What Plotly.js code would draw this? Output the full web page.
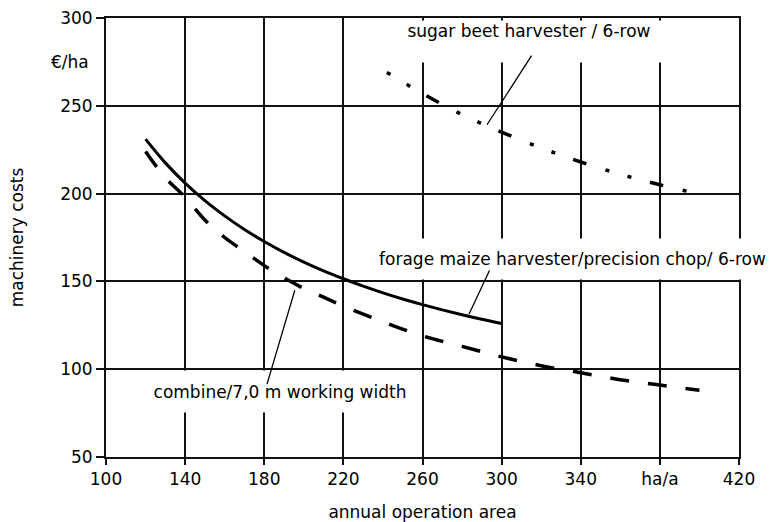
<!DOCTYPE html>
<html>
<head>
<meta charset="utf-8">
<script src="https://cdn.plot.ly/plotly-3.0.1.min.js"></script>
<style>html,body{margin:0;padding:0;background:#fff;}#chart{width:774px;height:522px;}</style>
</head>
<body>
<div id="chart"></div>
<script>
// Data
const forageX = [120,130,140,150,160,170,180,190,200,210,220,230,240,250,260,270,280,290,300];
const forageY = [231,217.5,206,196,187.3,179.5,172.7,166.5,161,156,151.5,147.3,143.5,140,136.8,133.8,131,128.4,126];

const combineX = [120,130,140,150,160,170,180,190,200,210,220,240,260,280,300,320,340,360,380,400];
const combineY = [224,209,198,185,175,167,159,152,146,141,136,127,119,113,107,102,98,94,91,88];

const sugarX = [242,260,280,300,320,340,360,380,395];
const sugarY = [269,257,245,235,226,218,211,205,201];

const xTickVals = [100,140,180,220,260,300,340,380,420];
const xTickText = ['100','140','180','220','260','300','340','ha/a','420'];
const yTickVals = [50,100,150,200,250,300];
const yTickText = ['50','100','150','200','250','300'];

const labelForage = 'forage maize harvester/precision chop/ 6-row';
const labelCombine = 'combine/7,0 m working width';
const labelSugar = 'sugar beet harvester / 6-row';
const unitY = '€/ha';
const titleX = 'annual operation area';
const titleY = 'machinery costs';

const FONT = 'DejaVu Sans, Liberation Sans, Arial, sans-serif';

const traces = [
  {x: forageX, y: forageY, mode: 'lines', line: {color: '#000', width: 3, shape: 'spline'}, name: labelForage},
  {x: combineX, y: combineY, mode: 'lines', line: {color: '#000', width: 3.5, dash: '19px,19px', shape: 'spline'}, name: labelCombine},
  {x: sugarX, y: sugarY, mode: 'lines', line: {color: '#000', width: 3.5, dash: '4px,19px,4px,19px,14px,20px', shape: 'spline'}, name: labelSugar}
];

function leader(x0, y0, x1, y1) {
  return {x: x1, y: y1, ax: x0, ay: y0, xref: 'x', yref: 'y', axref: 'x', ayref: 'y',
    text: ' ', font: {size: 1}, showarrow: true, arrowhead: 0, arrowwidth: 1.3,
    arrowcolor: '#000', standoff: 0, startstandoff: 0, borderpad: 0};
}

const layout = {
  width: 774, height: 522,
  margin: {l: 106, r: 35, t: 18, b: 65},
  paper_bgcolor: '#fff', plot_bgcolor: '#fff',
  showlegend: false,
  font: {family: FONT, size: 17, color: '#000'},
  xaxis: {
    range: [100, 420], tickmode: 'array', tickvals: xTickVals, ticktext: xTickText,
    showgrid: true, gridcolor: '#111', gridwidth: 2,
    showline: true, linecolor: '#111', linewidth: 2, mirror: true,
    ticks: 'outside', ticklen: 6, tickwidth: 2, tickcolor: '#111',
    zeroline: false,
    title: {text: titleX, font: {size: 17}, standoff: 20}
  },
  yaxis: {
    range: [50, 300], tickmode: 'array', tickvals: yTickVals, ticktext: yTickText,
    showgrid: true, gridcolor: '#111', gridwidth: 2,
    showline: true, linecolor: '#111', linewidth: 2, mirror: true,
    ticks: 'outside', ticklen: 8, tickwidth: 2, tickcolor: '#111',
    zeroline: false,
    title: {text: titleY, font: {size: 17}, standoff: 32}
  },
  annotations: [
    {x: 0, xref: 'paper', y: 275, yref: 'y', xanchor: 'right', xshift: -15, text: unitY, showarrow: false, font: {size: 17}},
    {x: 314, y: 300, xref: 'x', yref: 'y', yanchor: 'top', yshift: -2, text: labelSugar, showarrow: false,
      bgcolor: '#fff', width: 280, height: 41, valign: 'top', borderpad: 0, font: {size: 17}},
    {x: 336, y: 175, xref: 'x', yref: 'y', yanchor: 'top', text: labelForage, showarrow: false,
      bgcolor: '#fff', width: 395, height: 40, valign: 'middle', borderpad: 0, font: {size: 17}},
    {x: 188, y: 99.5, xref: 'x', yref: 'y', yanchor: 'top', text: labelCombine, showarrow: false,
      bgcolor: '#fff', width: 270, height: 41, valign: 'middle', borderpad: 0, font: {size: 17}},
    leader(315.4, 279, 292.6, 239.2),
    leader(294.1, 156.8, 283.5, 131.3),
    leader(195.6, 145.5, 181.4, 91.5)
  ]
};

Plotly.newPlot('chart', traces, layout, {staticPlot: true, displayModeBar: false});
</script>
</body>
</html>
